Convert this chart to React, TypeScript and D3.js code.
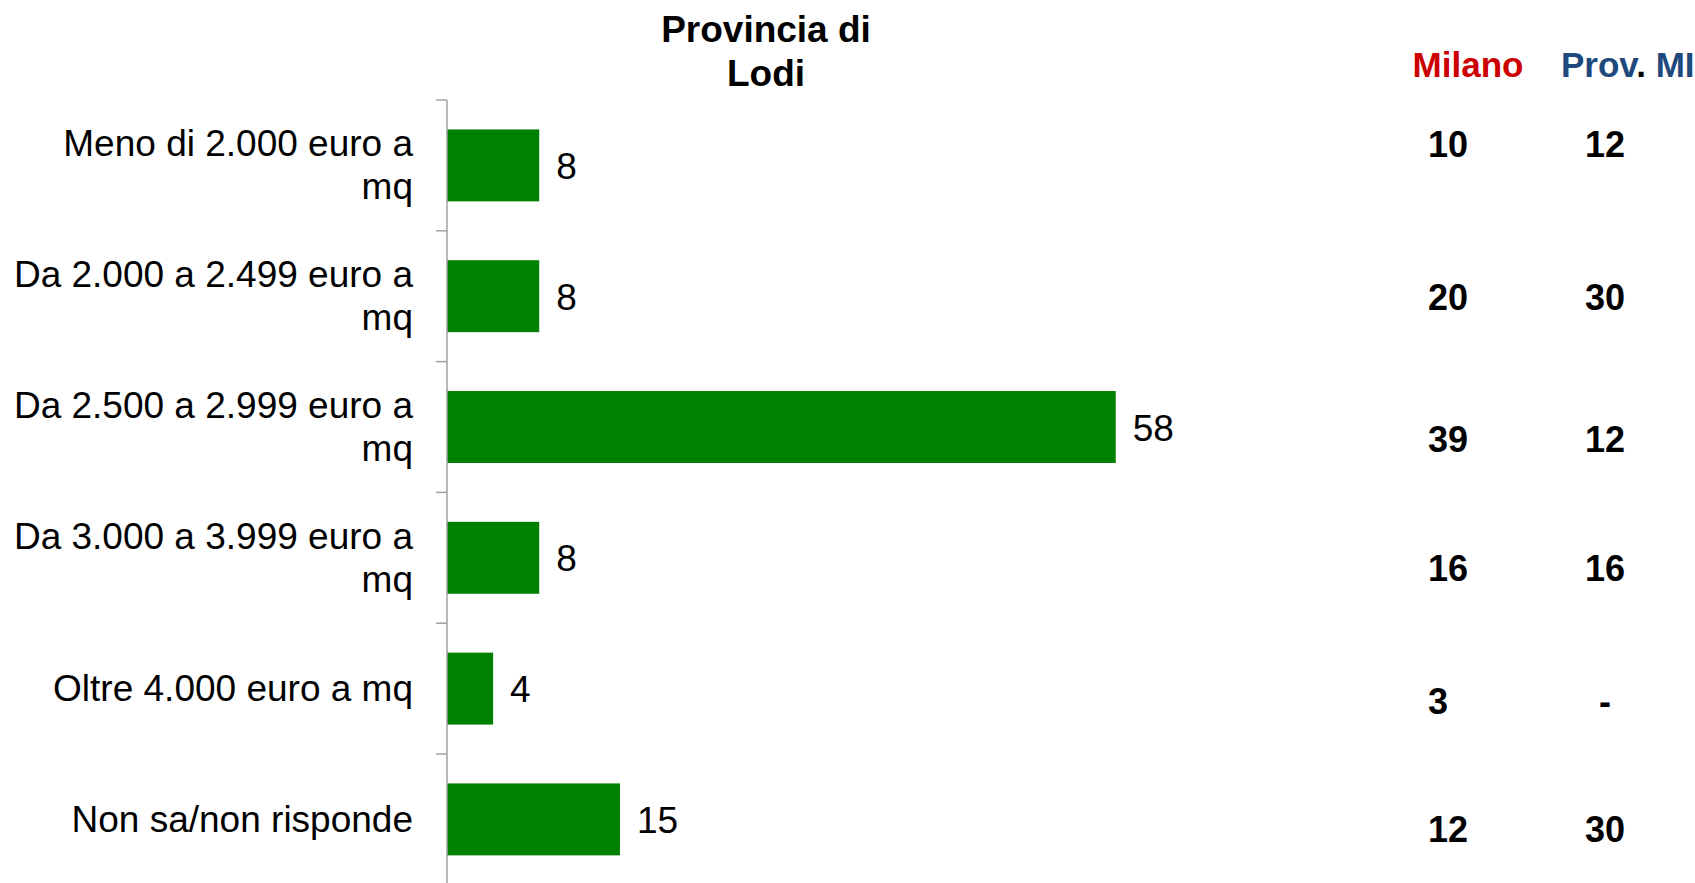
import React from "react";
import * as d3 from "d3";

// ---- Data ----
const categories: string[] = [
  "Meno di 2.000 euro a mq",
  "Da 2.000 a 2.499 euro a mq",
  "Da 2.500 a 2.999 euro a mq",
  "Da 3.000 a 3.999 euro a mq",
  "Oltre 4.000 euro a mq",
  "Non sa/non risponde",
];
const lodiValues: number[] = [8, 8, 58, 8, 4, 15];
const milanoValues: string[] = ["10", "20", "39", "16", "3", "12"];
const provMiValues: string[] = ["12", "30", "12", "16", "-", "30"];
const titleLines: string[] = ["Provincia di", "Lodi"];
const milanoHeader = "Milano";
const provHeaderParts: string[] = ["Prov", ".", " MI"];

// ---- Layout / style ----
const W = 1695;
const H = 883;
const FONT = "'Liberation Sans', Arial, Helvetica, sans-serif";
const AXIS_X = 447;
const TOP = 100;
const STEP = 130.8;
const GREEN = "#008000";
const RED = "#cc0000";
const BLUE = "#1f497d";
// vertical shift of table rows relative to band centre
const tableRowShift: number[] = [-21, 1, 12, 10, 12, 10];

function wrap(label: string): string[] {
  if (label.length <= 21) return [label];
  const i = label.lastIndexOf(" ");
  return [label.slice(0, i), label.slice(i + 1)];
}

export default function App() {
  const y = d3
    .scaleBand<string>()
    .domain(categories)
    .range([TOP, TOP + STEP * categories.length])
    .paddingInner(0.45)
    .paddingOuter(0.225);
  const x = d3.scaleLinear().domain([0, 100]).range([AXIS_X, AXIS_X + 1153]);
  const center = (c: string) => (y(c) as number) + y.bandwidth() / 2;
  const boundaries = d3.range(categories.length + 1).map((i) => TOP + i * STEP);

  return (
    <svg
      width={W}
      height={H}
      style={{ position: "absolute", left: 0, top: 0, background: "#fff" }}
      fontFamily={FONT}
    >
      {/* Title */}
      <text x={766} y={41.7} textAnchor="middle" fontSize={37} fontWeight="bold" fill="#000">
        {titleLines[0]}
      </text>
      <text x={766} y={86} textAnchor="middle" fontSize={37} fontWeight="bold" fill="#000">
        {titleLines[1]}
      </text>

      {/* Table headers */}
      <text x={1468} y={76.7} textAnchor="middle" fontSize={35} fontWeight="bold" fill={RED}>
        {milanoHeader}
      </text>
      <text x={1561} y={76.7} fontSize={35} fontWeight="bold">
        <tspan fill={BLUE}>{provHeaderParts[0]}</tspan>
        <tspan fill="#000">{provHeaderParts[1]}</tspan>
        <tspan fill={BLUE}>{provHeaderParts[2]}</tspan>
      </text>

      {/* Bars */}
      {categories.map((c, i) => (
        <rect
          key={"b" + i}
          x={x(0)}
          y={y(c)}
          width={x(lodiValues[i]) - x(0)}
          height={y.bandwidth()}
          fill={GREEN}
        />
      ))}

      {/* Axis */}
      <line x1={AXIS_X} x2={AXIS_X} y1={TOP} y2={H + 5} stroke="#a0a0a0" strokeWidth={1.5} />
      {boundaries.map((b, i) => (
        <line key={"t" + i} x1={AXIS_X - 11} x2={AXIS_X} y1={b} y2={b} stroke="#a0a0a0" strokeWidth={1.5} />
      ))}

      {/* Category labels */}
      {categories.map((c, i) => {
        const lines = wrap(c);
        const cy = center(c);
        const lh = 43;
        const first = cy + 12.5 - ((lines.length - 1) * lh) / 2;
        return (
          <text key={"l" + i} textAnchor="end" fontSize={37} fill="#000">
            {lines.map((ln, j) => (
              <tspan key={j} x={413} y={first + j * lh}>
                {ln}
              </tspan>
            ))}
          </text>
        );
      })}

      {/* Value labels */}
      {categories.map((c, i) => (
        <text key={"v" + i} x={x(lodiValues[i]) + 17} y={center(c) + 13.5} fontSize={37} fill="#000">
          {lodiValues[i]}
        </text>
      ))}

      {/* Table values */}
      {categories.map((c, i) => (
        <g key={"tv" + i}>
          <text x={1428} y={center(c) + tableRowShift[i] + 13} fontSize={36} fontWeight="bold" fill="#000">
            {milanoValues[i]}
          </text>
          <text
            x={1605}
            y={center(c) + tableRowShift[i] + 13}
            textAnchor="middle"
            fontSize={36}
            fontWeight="bold"
            fill="#000"
          >
            {provMiValues[i]}
          </text>
        </g>
      ))}
    </svg>
  );
}
